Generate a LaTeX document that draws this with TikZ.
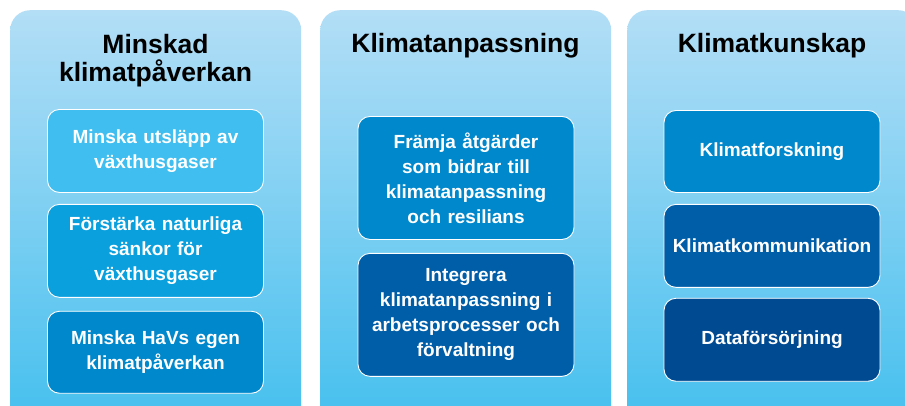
\documentclass[tikz,border=0pt]{standalone}
\usepackage{fontspec}
\setmainfont{Liberation Sans}
\usetikzlibrary{positioning}

\definecolor{paneltop}{HTML}{B3DEF6}
\definecolor{panelbot}{HTML}{43BFEE}
\definecolor{boxA}{HTML}{3FBEEF}
\definecolor{boxB}{HTML}{0AA0DE}
\definecolor{boxC}{HTML}{0088CC}
\definecolor{boxD}{HTML}{005EA8}
\definecolor{boxE}{HTML}{004A92}

\begin{document}
\begin{tikzpicture}[x=1pt,y=-1pt,
    panel/.style={rounded corners=20pt, top color=paneltop, bottom color=panelbot,
      minimum width=291pt, minimum height=420pt, anchor=north west, inner sep=0pt},
    title/.style={font=\bfseries\fontsize{26.5}{28}\selectfont, align=center, inner sep=0pt},
    goal/.style={draw=white, line width=0.9pt, rounded corners=12pt, text=white,
      font=\bfseries\fontsize{19}{25}\selectfont, align=center,
      text width=214pt, minimum width=216pt, inner sep=0pt}]
    \useasboundingbox (0,0) rectangle (905,405);
    \clip (0,0) rectangle (905,405);

    % Panels
    \node[panel] (minskad) at (10,10) {};
    \node[panel] (anpass) at (320,10) {};
    \node[panel] (kunskap) at (627,10) {};

    % Titles
    \node[title] (tminskad) at (155.5,61) {Minskad\\klimatpåverkan};
    \node[title] (tanpass) at (465.5,46) {Klimatanpassning};
    \node[title] (tkunskap) at (772,46) {Klimatkunskap};

    % Minskad klimatpåverkan
    \node[goal, fill=boxA, minimum height=83pt, anchor=north] (utslapp) at (155.5,109) {Minska utsläpp av\\växthusgaser};
    \node[goal, fill=boxB, minimum height=93pt, below=11pt of utslapp] (sankor) {Förstärka naturliga\\sänkor för\\växthusgaser};
    \node[goal, fill=boxC, minimum height=82pt, below=13pt of sankor] (egen) {Minska HaVs egen\\klimatpåverkan};

    % Klimatanpassning
    \node[goal, fill=boxC, minimum height=123pt, anchor=north] (framja) at (466,116) {Främja åtgärder\\som bidrar till\\klimatanpassning\\och resilians};
    \node[goal, fill=boxD, minimum height=123pt, below=13pt of framja] (integrera) {Integrera\\klimatanpassning i\\arbetsprocesser och\\förvaltning};

    % Klimatkunskap
    \node[goal, fill=boxC, minimum height=82pt, anchor=north] (forskning) at (772,110) {Klimatforskning};
    \node[goal, fill=boxD, minimum height=83pt, below=11pt of forskning] (kommunikation) {Klimatkommunikation};
    \node[goal, fill=boxE, minimum height=83pt, below=10pt of kommunikation] (data) {Dataförsörjning};
\end{tikzpicture}
\end{document}
